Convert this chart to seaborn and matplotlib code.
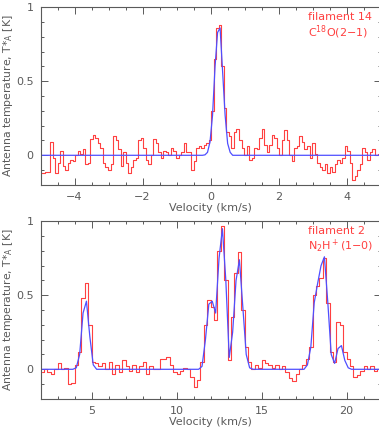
import numpy as np
import matplotlib
matplotlib.use('Agg')
import matplotlib.pyplot as plt
import seaborn as sns
from matplotlib.ticker import MultipleLocator

# filament 14, C18O(2-1): channel grid + spectrum + fit
v14_start, v14_step = -4.98, 0.0741
t14 = [-0.12, -0.12, -0.11, -0.11, 0.09, -0.02, -0.12, -0.05, 0.03, -0.07,
       -0.10, -0.05, -0.03, -0.04, 0.00, 0.03, 0.01, 0.04, -0.06, -0.05,
       0.11, 0.14, 0.12, 0.08, 0.05, -0.05, -0.08, -0.10, -0.06, 0.13,
       0.10, 0.04, -0.07, 0.02, -0.05, -0.12, -0.08, -0.03, -0.02, 0.10,
       0.12, 0.05, -0.03, -0.06, 0.00, 0.11, 0.08, 0.02, -0.02, 0.03,
       0.02, 0.00, 0.05, 0.03, -0.02, 0.00, 0.02, 0.08, 0.02, 0.02,
       -0.10, -0.04, 0.05, 0.06, 0.05, 0.07, 0.08, 0.10, 0.30, 0.65,
       0.86, 0.88, 0.60, 0.32, 0.16, 0.13, 0.05, 0.16, 0.18, 0.10,
       0.05, 0.00, 0.06, -0.03, -0.02, 0.05, 0.04, 0.12, 0.18, 0.07,
       0.02, 0.07, 0.14, 0.12, 0.05, 0.00, 0.10, 0.17, 0.10, 0.00,
       -0.04, 0.05, 0.06, 0.13, 0.09, 0.04, 0.06, -0.02, 0.08, 0.01,
       -0.05, -0.08, -0.10, -0.06, -0.12, -0.08, -0.11, -0.06, -0.03, -0.05,
       -0.02, 0.06, 0.03, -0.05, -0.17, -0.14, -0.10, -0.06, 0.05, 0.02,
       -0.03, 0.02, 0.04, 0.00, 0.01, 0.01]
fit14 = ([0.0] * 65 +
         [0.003, 0.02, 0.09, 0.27, 0.60, 0.83, 0.86, 0.56, 0.27, 0.08, 0.02] +
         [0.0] * 60)

# filament 2, N2H+(1-0)
v2_start, v2_step = 2.1, 0.2
t2 = [-0.02, 0.00, -0.02, -0.03, 0.00, 0.04, 0.00, 0.01, -0.10, -0.09,
      0.03, 0.12, 0.48, 0.58, 0.30, 0.05, 0.04, 0.02, 0.04, 0.00,
      0.05, -0.03, 0.03, -0.02, 0.06, 0.02, -0.01, 0.03, -0.02, 0.02,
      0.05, -0.03, 0.02, 0.00, 0.00, 0.07, 0.07, 0.08, 0.03, -0.02,
      -0.03, -0.01, 0.01, 0.00, -0.05, -0.12, -0.07, 0.05, 0.30, 0.47,
      0.42, 0.33, 0.80, 0.97, 0.60, 0.06, 0.35, 0.65, 0.79, 0.40,
      0.15, 0.05, 0.00, 0.03, 0.01, 0.06, 0.04, 0.03, 0.01, 0.03,
      0.00, 0.02, -0.02, -0.06, -0.08, -0.03, 0.00, 0.03, 0.07, 0.15,
      0.50, 0.56, 0.62, 0.75, 0.45, 0.12, 0.05, 0.32, 0.30, 0.12,
      0.07, 0.02, -0.05, -0.04, -0.01, 0.02, 0.00, 0.02, -0.01, 0.00]
fit2 = ([0.0] * 10 +
        [0.01, 0.10, 0.38, 0.46, 0.22, 0.03] +
        [0.0] * 31 +
        [0.02, 0.20, 0.44, 0.46, 0.38, 0.75, 0.95, 0.60, 0.08, 0.25,
         0.60, 0.74, 0.42, 0.10, 0.01] +
        [0.0] * 16 +
        [0.03, 0.15, 0.45, 0.58, 0.70, 0.76, 0.45, 0.10, 0.04, 0.14,
         0.16, 0.06, 0.01] +
        [0.0] * 9)

v14 = v14_start + v14_step * np.arange(len(t14))
v2 = v2_start + v2_step * np.arange(len(t2))

sns.set_style('ticks')
plt.rcParams['font.family'] = ['DejaVu Sans']
grey = '#5a5a5a'
red = '#ff4040'
blue = '#4f4fff'

fig = plt.figure(figsize=(3.79, 4.28), dpi=100)
ax1 = fig.add_axes([0.107, 0.568, 0.897, 0.415])
ax2 = fig.add_axes([0.107, 0.068, 0.897, 0.415])

panels = [
    (ax1, v14, t14, fit14, (-5, 5), 2, 0.5, 'filament 14', 'C$^{18}$O(2\u22121)'),
    (ax2, v2, t2, fit2, (2, 22), 5, 1, 'filament 2', 'N$_2$H$^+$(1\u22120)'),
]

for ax, v, t, fit, xl, xmaj, xmin, name, line in panels:
    sns.lineplot(x=v, y=t, ax=ax, color=red, linewidth=0.8,
                 drawstyle='steps-mid', estimator=None, sort=False)
    sns.lineplot(x=v, y=fit, ax=ax, color=blue, linewidth=0.9,
                 estimator=None, sort=False)
    ax.set_xlim(*xl)
    ax.set_ylim(-0.2, 1)
    ax.xaxis.set_major_locator(MultipleLocator(xmaj))
    ax.xaxis.set_minor_locator(MultipleLocator(xmin))
    ax.yaxis.set_major_locator(MultipleLocator(0.5))
    ax.yaxis.set_minor_locator(MultipleLocator(0.1))
    ax.set_yticks([0, 0.5, 1])
    ax.set_yticklabels(['0', '0.5', '1'])
    ax.tick_params(which='both', direction='in', top=True, right=True,
                   colors=grey, labelsize=8, width=0.7)
    ax.tick_params(which='major', length=5, pad=5)
    ax.tick_params(which='minor', length=2.5)
    for s in ax.spines.values():
        s.set_color(grey)
        s.set_linewidth(0.8)
    ax.set_xlabel('Velocity (km/s)', color=grey, fontsize=8, labelpad=1)
    ax.set_ylabel('Antenna temperature, T*$_\\mathregular{A}$ [K]',
                  color=grey, fontsize=7.8)
    ax.yaxis.set_label_coords(-0.074, 0.5)
    ax.text(0.786, 0.946, name, transform=ax.transAxes, color=red,
            fontsize=8, ha='left', va='center')
    ax.text(0.786, 0.862, line, transform=ax.transAxes, color=red,
            fontsize=8, ha='left', va='center')

fig.savefig('out.png', dpi=100)
